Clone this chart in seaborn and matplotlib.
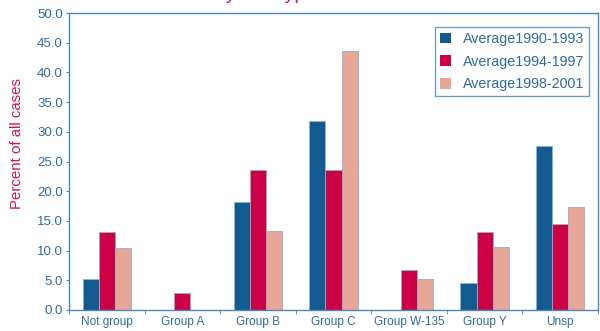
import pandas as pd
import matplotlib.pyplot as plt
import seaborn as sns
from matplotlib.ticker import FixedLocator, FormatStrFormatter

# data
groups = ["Not group", "Group A", "Group B", "Group C", "Group W-135", "Group Y", "Unsp"]
periods = ["Average1990-1993", "Average1994-1997", "Average1998-2001"]
avg_1990_1993 = [5.2, 0.0, 18.2, 31.8, 0.0, 4.5, 27.6]
avg_1994_1997 = [13.1, 2.9, 23.5, 23.5, 6.7, 13.2, 14.5]
avg_1998_2001 = [10.5, 0.0, 13.3, 43.6, 5.3, 10.6, 17.3]

df = pd.DataFrame({
    "group": groups * 3,
    "period": [periods[0]] * 7 + [periods[1]] * 7 + [periods[2]] * 7,
    "value": avg_1990_1993 + avg_1994_1997 + avg_1998_2001,
})

sns.set_style("white")
plt.rcParams["font.family"] = ["Liberation Sans", "DejaVu Sans"]

blue_txt = "#2f6a9c"
spine_col = "#4a86b8"
palette = ["#135b8e", "#cc0044", "#e8a696"]

fig = plt.figure(figsize=(6, 3.31), dpi=100)
ax = fig.add_axes([69 / 600, 21 / 331, 529 / 600, 297 / 331])

sns.barplot(data=df, x="group", y="value", hue="period", palette=palette,
            width=0.64, gap=0, saturation=1, edgecolor="#8fb0cc",
            linewidth=0.6, ax=ax)

ax.set_ylim(0, 50)
ax.set_xlim(-0.5, 6.5)
ax.yaxis.set_major_locator(FixedLocator([i * 5 for i in range(11)]))
ax.yaxis.set_major_formatter(FormatStrFormatter("%.1f"))
ax.xaxis.set_minor_locator(FixedLocator([i + 0.5 for i in range(-1, 7)]))
ax.tick_params(axis="x", which="major", length=0, labelsize=8.5,
               labelcolor=blue_txt, pad=4)
ax.tick_params(axis="x", which="minor", length=3, color=spine_col,
               direction="out", bottom=True)
ax.tick_params(axis="y", length=2.5, color=spine_col, labelsize=9.5,
               labelcolor=blue_txt, left=True, pad=2)

for s in ax.spines.values():
    s.set_color(spine_col)
    s.set_linewidth(1.0)

ax.set_xlabel("")
ax.set_ylabel("Percent of all cases", color="#d0105a", fontsize=10.8)
ax.yaxis.set_label_coords(-0.085, 0.56)

leg = ax.legend(loc="upper right", bbox_to_anchor=(0.983, 0.953),
                borderaxespad=0, frameon=True, fancybox=False, fontsize=10.3,
                handlelength=0.8, handleheight=0.8, handletextpad=0.8,
                labelspacing=0.6, borderpad=0.35, labelcolor=blue_txt)
leg.get_frame().set_edgecolor(spine_col)
leg.get_frame().set_linewidth(1.0)
for h in leg.legend_handles:
    h.set_edgecolor("none")

# title of the original is cut off at the top edge, only descenders show
fig.text(0.257, 1.004, "Cases by serotype", color="#d0105a", fontsize=14,
         ha="left", va="baseline")

fig.savefig("out.png", dpi=100)
